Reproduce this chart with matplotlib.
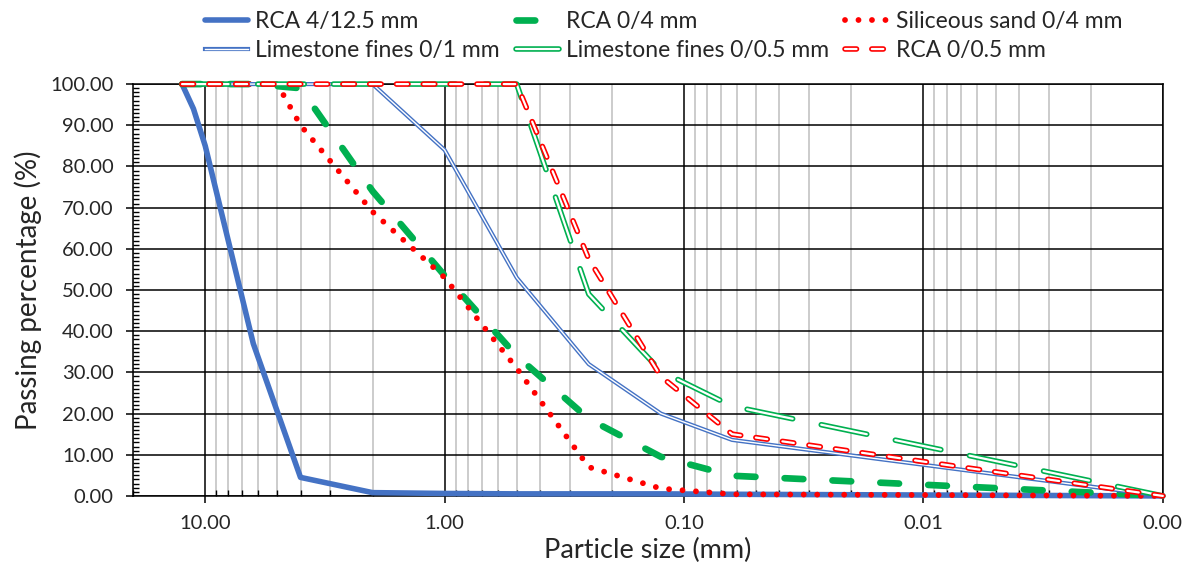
import matplotlib
matplotlib.use("Agg")
import matplotlib.pyplot as plt
import matplotlib.patheffects as pe
from matplotlib.ticker import FixedLocator, FormatStrFormatter, LogLocator, MultipleLocator, NullFormatter

plt.rcParams['font.family'] = ['Lato', 'DejaVu Sans']
plt.rcParams['lines.scale_dashes'] = False

# particle size (mm) and cumulative passing (%) for each material
rca_coarse_size = [12.5, 11.2, 10, 6.3, 4, 2, 1, 0.5, 0.25, 0.125, 0.063, 0.001]
rca_coarse_pass = [100, 94, 85, 37, 4.5, 0.8, 0.6, 0.5, 0.5, 0.5, 0.4, 0]

rca_fine_size = [12.5, 10, 6.3, 4, 2, 1, 0.5, 0.25, 0.125, 0.063, 0.001]
rca_fine_pass = [100, 100, 100, 99, 74, 53.5, 34, 18.7, 9.5, 4.9, 0]

sand_size = [12.5, 5, 4, 2, 1, 0.5, 0.25, 0.125, 0.063, 0.001]
sand_pass = [100, 100, 90, 69, 53, 31, 7, 1.8, 0.4, 0]

lime1_size = [12.5, 2, 1, 0.5, 0.25, 0.125, 0.063, 0.001]
lime1_pass = [100, 100, 84, 53, 32, 20, 13.6, 0]

lime05_size = [12.5, 0.5, 0.25, 0.125, 0.063, 0.001]
lime05_pass = [100, 100, 49, 30.3, 21.8, 0]

rca05_size = [12.5, 0.5, 0.25, 0.125, 0.063, 0.001]
rca05_pass = [100, 100, 57.5, 29, 15, 0]

BLUE = '#4472C4'
GREEN = '#00B050'
RED = '#FF0000'


def hollow(color, width):
    # coloured edge with a white core, gives the "double line" look
    return [pe.Stroke(linewidth=width, foreground=color), pe.Normal()]


fig, ax = plt.subplots(figsize=(11.89, 5.72), dpi=100)
fig.subplots_adjust(left=0.112, right=0.978, top=0.853, bottom=0.133)

ax.plot(rca_coarse_size, rca_coarse_pass, color=BLUE, lw=4.0,
        solid_capstyle='round', label='RCA 4/12.5 mm', clip_on=False, zorder=3)

ax.plot(rca_fine_size, rca_fine_pass, color=GREEN, lw=4.8, dashes=(13.5, 21),
        dash_capstyle='round', label='RCA 0/4 mm', clip_on=False, zorder=3)

ax.plot(sand_size, sand_pass, color=RED, lw=4.2, dashes=(0.01, 9.7),
        dash_capstyle='round', label='Siliceous sand 0/4 mm', clip_on=False, zorder=3)

ax.plot(lime1_size, lime1_pass, color='white', lw=1.0,
        path_effects=hollow(BLUE, 3.0), label='Limestone fines 0/1 mm',
        clip_on=False, zorder=3)

ax.plot(lime05_size, lime05_pass, color='white', lw=1.6, dashes=(33.5, 21),
        dash_capstyle='round', path_effects=hollow(GREEN, 4.0),
        label='Limestone fines 0/0.5 mm', clip_on=False, zorder=3)

ax.plot(rca05_size, rca05_pass, color='white', lw=1.6, dashes=(8.3, 11),
        dash_capstyle='round', path_effects=hollow(RED, 4.0),
        label='RCA 0/0.5 mm', clip_on=False, zorder=3)

ax.set_xscale('log')
ax.set_xlim(20, 0.001)
ax.set_ylim(0, 100)

ax.xaxis.set_major_locator(FixedLocator([10, 1, 0.1, 0.01, 0.001]))
ax.xaxis.set_major_formatter(FormatStrFormatter('%.2f'))
ax.xaxis.set_minor_locator(LogLocator(base=10, subs=range(2, 10)))
ax.xaxis.set_minor_formatter(NullFormatter())
ax.yaxis.set_major_locator(MultipleLocator(10))
ax.yaxis.set_major_formatter(FormatStrFormatter('%.2f'))
ax.yaxis.set_minor_locator(MultipleLocator(1))

ax.grid(which='major', color='black', lw=1.1)
ax.grid(which='minor', axis='x', color='#BFBFBF', lw=1.1)
ax.set_axisbelow(True)

for s in ax.spines.values():
    s.set_color('black')
    s.set_linewidth(1.1)

ax.tick_params(which='major', direction='out', length=5, width=1.1,
               labelsize=14.5, colors='black', labelcolor='#262626')
ax.tick_params(which='minor', direction='in', length=4, width=1.0)
ax.tick_params(axis='x', which='major', pad=9)
ax.tick_params(axis='y', which='major', pad=9)

ax.set_xlabel('Particle size (mm)', fontsize=19.5, color='#262626', labelpad=4)
ax.set_ylabel('Passing percentage (%)', fontsize=20, color='#262626', labelpad=6)

# legend order fills column by column
h, l = ax.get_legend_handles_labels()
order = [0, 3, 1, 4, 2, 5]
fig.legend([h[i] for i in order], [l[i] for i in order], loc='upper center',
           bbox_to_anchor=(0.558, 0.997), ncol=3, frameon=False, fontsize=16.5,
           handlelength=1.9, handletextpad=0.3, columnspacing=0.7,
           labelspacing=0.35, borderaxespad=0, labelcolor='#262626')

plt.savefig('out.png', dpi=100)
